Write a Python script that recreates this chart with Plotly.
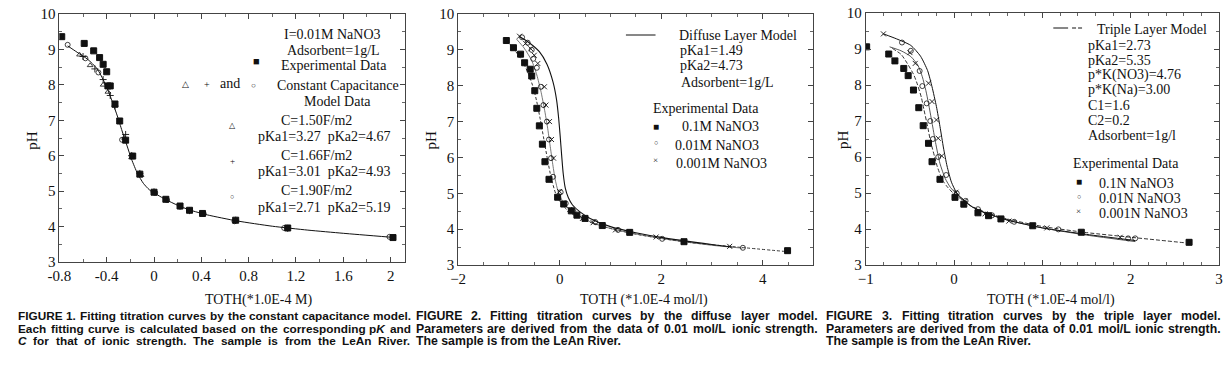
import plotly.graph_objects as go

W, H = 1232, 374
MT, MB = 13, 109
PH = H - MT - MB  # plot-area height in px

# ---------------- Panel 1 data (constant capacitance) ----------------
p1_exp_x = [-0.78, -0.59, -0.51, -0.46, -0.43, -0.40, -0.39, -0.37, -0.33, -0.29, -0.24, -0.18, -0.12, 0.0, 0.10, 0.22, 0.30, 0.41, 0.69, 1.13, 2.02]
p1_exp_y = [9.36, 9.17, 8.96, 8.77, 8.58, 8.37, 7.97, 7.97, 7.46, 6.98, 6.44, 5.99, 5.48, 4.97, 4.77, 4.58, 4.46, 4.37, 4.18, 3.96, 3.69]
p1_circ_x = [-0.73, -0.58, -0.47, -0.27, -0.18, -0.12, 0.01, 0.11, 0.22, 0.42, 0.68, 1.10, 1.99]
p1_circ_y = [9.13, 8.75, 8.35, 6.45, 6.00, 5.48, 4.95, 4.75, 4.56, 4.36, 4.15, 3.96, 3.71]
p1_plus_x = [-0.60, -0.50, -0.43, -0.37, -0.33, -0.24, -0.19, -0.12, 0.0, 0.30, 0.69, 1.13]
p1_plus_y = [8.80, 8.45, 8.15, 7.70, 7.40, 6.60, 6.00, 5.50, 4.98, 4.45, 4.18, 3.95]
p1_tri_x = [-0.63, -0.54, -0.43, -0.39, -0.33, -0.25, -0.19, -0.11]
p1_tri_y = [8.85, 8.55, 8.00, 7.80, 7.40, 6.50, 5.95, 5.45]
p1_fit_x = [-0.73, -0.65, -0.56, -0.48, -0.43, -0.39, -0.35, -0.31, -0.27, -0.23, -0.19, -0.14, -0.09, -0.04, 0.0, 0.1, 0.2, 0.3, 0.45, 0.7, 1.0, 1.3, 1.6, 2.0]
p1_fit_y = [9.10, 8.92, 8.72, 8.45, 8.15, 7.85, 7.50, 7.12, 6.70, 6.30, 5.90, 5.50, 5.22, 5.04, 4.95, 4.76, 4.60, 4.47, 4.33, 4.16, 4.01, 3.90, 3.81, 3.70]

# ---------------- Panel 2 data (diffuse layer) ----------------
p2_sq_x = [-1.05, -0.91, -0.77, -0.69, -0.58, -0.55, -0.49, -0.45, -0.40, -0.34, -0.29, -0.21, -0.04, 0.08, 0.23, 0.34, 0.50, 0.84, 1.38, 2.45, 4.49]
p2_sq_y = [9.26, 9.06, 8.88, 8.64, 8.46, 8.27, 7.86, 7.37, 6.88, 6.37, 5.88, 5.39, 4.89, 4.70, 4.51, 4.39, 4.30, 4.10, 3.91, 3.65, 3.40]
p2_ci_x = [-0.74, -0.63, -0.55, -0.52, -0.45, -0.37, -0.32, -0.25, -0.21, -0.17, -0.13, 0.02, 0.12, 0.27, 0.70, 1.15, 2.02, 3.61]
p2_ci_y = [9.35, 9.20, 9.00, 8.75, 8.50, 7.97, 7.46, 7.00, 6.50, 5.98, 5.46, 5.03, 4.72, 4.50, 4.20, 3.98, 3.73, 3.48]
p2_x_x = [-0.79, -0.67, -0.57, -0.50, -0.43, -0.30, -0.27, -0.20, -0.16, -0.12, 0.0, 0.20, 0.45, 0.66, 1.10, 1.90, 3.35]
p2_x_y = [9.38, 9.18, 9.03, 8.85, 8.62, 7.97, 7.46, 7.00, 6.50, 5.98, 5.05, 4.55, 4.30, 4.18, 3.98, 3.78, 3.52]
p2_fitA_x = [-1.05, -0.90, -0.75, -0.62, -0.52, -0.45, -0.38, -0.31, -0.24, -0.17, -0.08, 0.0, 0.1, 0.25, 0.5, 1.0, 1.5, 2.0, 2.6, 3.5, 4.5]
p2_fitA_y = [9.28, 9.02, 8.72, 8.35, 7.95, 7.55, 7.05, 6.50, 5.95, 5.45, 5.00, 4.78, 4.60, 4.42, 4.24, 4.02, 3.86, 3.74, 3.62, 3.50, 3.37]
p2_fitB_x = [-0.85, -0.70, -0.55, -0.45, -0.37, -0.30, -0.24, -0.19, -0.14, -0.09, -0.03, 0.05, 0.15, 0.3, 0.5, 0.8, 1.2, 2.0, 3.0, 3.6]
p2_fitB_y = [9.30, 9.05, 8.70, 8.30, 7.85, 7.35, 6.85, 6.35, 5.85, 5.40, 5.05, 4.80, 4.60, 4.43, 4.27, 4.10, 3.95, 3.74, 3.55, 3.47]
p2_fitC_x = [-0.80, -0.60, -0.40, -0.25, -0.13, -0.06, -0.02, 0.01, 0.04, 0.07, 0.11, 0.17, 0.25, 0.4, 0.6, 1.0, 1.5, 2.0, 3.0, 3.4]
p2_fitC_y = [9.38, 9.20, 8.95, 8.60, 8.10, 7.60, 7.10, 6.60, 6.05, 5.55, 5.15, 4.88, 4.68, 4.48, 4.30, 4.07, 3.90, 3.77, 3.57, 3.50]

# ---------------- Panel 3 data (triple layer) ----------------
p3_sq_x = [-0.99, -0.74, -0.67, -0.57, -0.52, -0.46, -0.40, -0.35, -0.29, -0.25, -0.16, 0.01, 0.11, 0.27, 0.39, 0.53, 0.89, 1.44, 2.66]
p3_sq_y = [9.06, 8.86, 8.67, 8.46, 8.26, 7.86, 7.37, 6.87, 6.38, 5.87, 5.38, 4.88, 4.69, 4.45, 4.37, 4.28, 4.09, 3.91, 3.63]
p3_ci_x = [-0.59, -0.49, -0.39, -0.36, -0.31, -0.27, -0.24, -0.18, -0.09, 0.03, 0.13, 0.27, 0.43, 0.68, 1.18, 1.97, 2.05]
p3_ci_y = [9.18, 8.95, 8.39, 7.97, 7.49, 7.00, 6.50, 6.00, 5.50, 4.99, 4.78, 4.55, 4.38, 4.20, 3.99, 3.74, 3.74]
p3_x_x = [-0.80, -0.50, -0.44, -0.29, -0.25, -0.20, -0.18, -0.14, 0.02, 0.12, 0.35, 0.62, 1.05, 1.88]
p3_x_y = [9.42, 8.90, 8.60, 8.05, 7.54, 7.03, 6.52, 6.03, 5.02, 4.78, 4.42, 4.22, 4.03, 3.77]
p3_fitA_x = [-0.70, -0.60, -0.53, -0.46, -0.42, -0.37, -0.34, -0.30, -0.27, -0.22, -0.19, -0.13, -0.08, 0.0, 0.1, 0.2, 0.35, 0.6, 1.0, 1.5, 2.0, 2.6]
p3_fitA_y = [9.02, 8.85, 8.60, 8.30, 8.05, 7.65, 7.30, 6.85, 6.47, 6.00, 5.73, 5.35, 5.18, 4.97, 4.80, 4.63, 4.47, 4.28, 4.07, 3.90, 3.77, 3.62]
p3_fitB_x = [-0.73, -0.60, -0.49, -0.41, -0.36, -0.32, -0.29, -0.25, -0.21, -0.16, -0.10, -0.04, 0.03, 0.1, 0.2, 0.35, 0.6, 1.0, 1.5, 2.05]
p3_fitB_y = [9.06, 8.95, 8.79, 8.55, 8.23, 7.85, 7.49, 6.95, 6.40, 5.82, 5.40, 5.15, 4.97, 4.82, 4.62, 4.45, 4.25, 4.03, 3.83, 3.65]
p3_fitC_x = [-0.80, -0.65, -0.49, -0.38, -0.30, -0.25, -0.20, -0.16, -0.12, -0.08, -0.03, 0.03, 0.1, 0.2, 0.35, 0.6, 1.0, 1.5, 2.05]
p3_fitC_y = [9.42, 9.28, 9.10, 8.80, 8.40, 7.95, 7.40, 6.85, 6.25, 5.75, 5.30, 5.00, 4.82, 4.62, 4.45, 4.25, 4.03, 3.85, 3.68]

# axis settings
x1_range, x1_ticks = [-0.8, 2.12], [-0.8, -0.4, 0, 0.4, 0.8, 1.2, 1.6, 2]
x1_labels = ["-0.8", "-0.4", "0", "0.4", "0.8", "1.2", "1.6", "2"]
x2_range, x2_ticks = [-2, 5], [-2, 0, 2, 4]
x3_range, x3_ticks = [-1, 3], [-1, 0, 1, 2, 3]
y_range, y_ticks = [3, 10], [3, 4, 5, 6, 7, 8, 9, 10]

# captions
cap1 = ["FIGURE 1.  Fitting titration curves by the constant capacitance model.",
        "Each fitting curve is calculated based on the corresponding p<i>K</i> and",
        "<i>C</i> for that of ionic strength. The sample is from the LeAn River."]
cap2 = ["FIGURE 2.  Fitting titration curves by the diffuse layer model.",
        "Parameters are derived from the data of 0.01 mol/L ionic strength.",
        "The sample is from the LeAn River."]
cap3 = ["FIGURE 3.  Fitting titration curves by the triple layer model.",
        "Parameters are derived from the data of 0.01 mol/L ionic strength.",
        "The sample is from the LeAn River."]

INK = "#111111"
SERIF = "Liberation Serif, Times New Roman, serif"
SANS = "Liberation Sans, Arial, sans-serif"

fig = go.Figure()

def line(x, y, ax, dash="solid", color=INK, width=1):
    fig.add_trace(go.Scatter(x=x, y=y, mode="lines", xaxis=ax[0], yaxis=ax[1],
                             line=dict(color=color, width=width, dash=dash, shape="spline", smoothing=0.6),
                             showlegend=False, hoverinfo="skip"))

def pts(x, y, ax, symbol, size, color=INK, lw=1):
    fig.add_trace(go.Scatter(x=x, y=y, mode="markers", xaxis=ax[0], yaxis=ax[1],
                             marker=dict(symbol=symbol, size=size, color=color,
                                         line=dict(color=color, width=lw)),
                             showlegend=False))

A1, A2, A3 = ("x", "y"), ("x2", "y2"), ("x3", "y3")

line(p1_fit_x, p1_fit_y, A1)
pts(p1_tri_x, p1_tri_y, A1, "triangle-up-open", 5, lw=0.8)
pts(p1_plus_x, p1_plus_y, A1, "cross-thin", 5, lw=0.9)
pts(p1_circ_x, p1_circ_y, A1, "circle-open", 5, lw=0.8)
pts(p1_exp_x, p1_exp_y, A1, "square", 6)

line(p2_fitA_x, p2_fitA_y, A2, dash="3px,2px", color="#333")
line(p2_fitB_x, p2_fitB_y, A2, color="#555", width=0.8)
line(p2_fitC_x, p2_fitC_y, A2, width=1.1)
pts(p2_ci_x, p2_ci_y, A2, "circle-open", 5, lw=0.8)
pts(p2_x_x, p2_x_y, A2, "x-thin", 5, lw=0.9)
pts(p2_sq_x, p2_sq_y, A2, "square", 6)

line(p3_fitA_x, p3_fitA_y, A3, dash="4px,2px", color="#333")
line(p3_fitB_x, p3_fitB_y, A3, color="#444", width=0.9)
line(p3_fitC_x, p3_fitC_y, A3, width=1)
pts(p3_ci_x, p3_ci_y, A3, "circle-open", 5, lw=0.8)
pts(p3_x_x, p3_x_y, A3, "x-thin", 5, lw=0.9)
pts(p3_sq_x, p3_sq_y, A3, "square", 6)

def px2paper(px, py):
    return px / W, (H - MB - py) / PH

axis_common = dict(showline=True, linecolor="#444", linewidth=1, mirror="ticks",
                   ticks="inside", ticklen=5, tickcolor="#444", showgrid=False, zeroline=False,
                   tickfont=dict(family=SERIF, size=15, color=INK),
                   minor=dict(ticks="inside", ticklen=3, tickcolor="#666"))

def xdom(l, r):
    return [l / W, r / W]

fig.update_layout(
    width=W, height=H, margin=dict(l=0, r=0, t=MT, b=MB),
    paper_bgcolor="white", plot_bgcolor="white",
    xaxis=dict(domain=xdom(48, 398), range=x1_range, tickvals=x1_ticks, ticktext=x1_labels,
               anchor="y", **axis_common),
    yaxis=dict(domain=[(265 - 262) / PH, (265 - 14) / PH], range=y_range, tickvals=y_ticks,
               anchor="x", **axis_common),
    xaxis2=dict(domain=xdom(452, 812), range=x2_range, tickvals=x2_ticks, anchor="y2", **axis_common),
    yaxis2=dict(domain=[0, (265 - 14) / PH], range=y_range, tickvals=y_ticks, anchor="x2", **axis_common),
    xaxis3=dict(domain=xdom(865, 1223), range=x3_range, tickvals=x3_ticks, anchor="y3", **axis_common),
    yaxis3=dict(domain=[0, (265 - 13) / PH], range=y_range, tickvals=y_ticks, anchor="x3", **axis_common),
)

anns = []
def ann(text, px, py, size=14, xanchor="left", family=SERIF, angle=0, yanchor="middle", pad=1):
    x, y = px2paper(px, py)
    anns.append(dict(text=text, x=x, y=y, xref="paper", yref="paper", showarrow=False,
                     xanchor=xanchor, yanchor=yanchor, textangle=angle,
                     borderpad=pad, borderwidth=0,
                     font=dict(family=family, size=size, color=INK)))

# ----- panel 1 key -----
ann("I=0.01M NaNO3", 325, 34, xanchor="center")
ann("Adsorbent=1g/L", 326, 50, xanchor="center")
ann("■", 248, 61, size=11, xanchor="center")
ann("Experimental Data", 326, 65, xanchor="center")
ann("△", 176, 84, size=9, xanchor="center")
ann("+", 198, 84, size=10, xanchor="center")
ann("and", 221, 83, xanchor="center")
ann("○", 245, 86, size=8, xanchor="center")
ann("Constant Capacitance", 330, 86, xanchor="center")
ann("Model Data", 330, 101, xanchor="center")
ann("△", 223, 126, size=8, xanchor="center")
ann("C=1.50F/m2", 308, 120, xanchor="center")
ann("pKa1=3.27  pKa2=4.67", 316, 136, xanchor="center")
ann("+", 223, 161, size=9, xanchor="center")
ann("C=1.66F/m2", 308, 155, xanchor="center")
ann("pKa1=3.01  pKa2=4.93", 316, 171, xanchor="center")
ann("○", 223, 197, size=7, xanchor="center")
ann("C=1.90F/m2", 308, 191, xanchor="center")
ann("pKa1=2.71  pKa2=5.19", 316, 207, xanchor="center")

# ----- panel 2 key -----
ann("Diffuse Layer Model", 675, 35)
ann("pKa1=1.49", 676, 50)
ann("pKa2=4.73", 676, 65)
ann("Adsorbent=1g/L", 677, 82)
ann("Experimental Data", 648, 108)
ann("■", 652, 127, size=10, xanchor="center")
ann("0.1M NaNO3", 678, 127)
ann("○", 652, 143, size=7, xanchor="center")
ann("0.01M NaNO3", 671, 145)
ann("×", 652, 160, size=9, xanchor="center")
ann("0.001M NaNO3", 672, 163)

# ----- panel 3 key -----
ann("Triple Layer Model", 1098, 30)
ann("pKa1=2.73", 1089, 45)
ann("pKa2=5.35", 1089, 60)
ann("p*K(NO3)=4.76", 1089, 75)
ann("p*K(Na)=3.00", 1089, 90)
ann("C1=1.6", 1089, 105)
ann("C2=0.2", 1089, 120)
ann("Adsorbent=1g/l", 1089, 135)
ann("Experimental Data", 1074, 163)
ann("■", 1081, 181, size=10, xanchor="center")
ann("0.1N NaNO3", 1100, 183)
ann("○", 1081, 197, size=7, xanchor="center")
ann("0.01N NaNO3", 1100, 198)
ann("×", 1081, 211, size=9, xanchor="center")
ann("0.001N NaNO3", 1100, 213)

# ----- axis titles -----
ann("pH", 20, 140, size=15, xanchor="center", angle=-90)
ann("pH", 425, 140, size=15, xanchor="center", angle=-90)
ann("pH", 842, 140, size=15, xanchor="center", angle=-90)
ann("TOTH(*1.0E-4 M)", 250, 300, size=14, xanchor="center")
ann("TOTH (*1.0E-4 mol/l)", 640, 300, size=14, xanchor="center")
ann("TOTH (*1.0E-4 mol/l)", 1053, 300, size=14, xanchor="center")

# ----- justified captions (Arial/Liberation Sans Bold advance widths, 1/1000 em) -----
AW = {" ": 278, ".": 278, "/": 278, "-": 333, "(": 333, ")": 333, "*": 389, "=": 584}
for ch in "0123456789":
    AW[ch] = 556
AW.update(dict(A=722, B=722, C=722, D=722, E=667, F=611, G=778, H=722, I=278, J=556, K=722, L=611,
               M=833, N=722, O=778, P=667, Q=778, R=722, S=667, T=611, U=722, V=667, W=944, X=667,
               Y=667, Z=611))
AW.update(dict(a=556, b=611, c=556, d=611, e=556, f=333, g=611, h=611, i=278, j=278, k=556, l=278,
               m=889, n=611, o=611, p=611, q=611, r=389, s=556, t=333, u=611, v=556, w=778, x=556,
               y=556, z=500))

def text_w(s, size):
    plain = s.replace("<i>", "").replace("</i>", "")
    return sum(AW.get(c, 556) for c in plain) * size / 1000.0

def caption_line(s, x0, x1, py, size, justify):
    if not justify:
        ann("<b>" + s + "</b>", x0, py, size=size, family=SANS, pad=0)
        return
    words = s.replace("  ", " ").split(" ")
    total = sum(text_w(w, size) for w in words)
    gap = (x1 - x0 - total) / (len(words) - 1)
    x = x0
    for w in words:
        ann("<b>" + w + "</b>", x, py, size=size, family=SANS, pad=0)
        x += text_w(w, size) + gap

cap_rows = [316, 328.7, 341.4]
for i, t in enumerate(cap1):
    caption_line(t, 6, 404, cap_rows[i], 11.8, True)
for i, t in enumerate(cap2):
    caption_line(t, 409, 816, cap_rows[i], 12.3, i < 2)
for i, t in enumerate(cap3):
    caption_line(t, 825, 1224, cap_rows[i], 12.3, i < 2)

# key line samples
shapes = []
def seg(px0, px1, py, dash="solid"):
    x0, y = px2paper(px0, py)
    x1, _ = px2paper(px1, py)
    shapes.append(dict(type="line", xref="paper", yref="paper", x0=x0, x1=x1, y0=y, y1=y,
                       line=dict(color=INK, width=1, dash=dash)))
seg(622, 652, 35)
seg(1055, 1070, 28)
seg(1074, 1086, 28, dash="4px,2px")

fig.update_layout(annotations=anns, shapes=shapes)
fig.write_html("out.html", config={"displayModeBar": False},
               post_script="document.body.style.margin='0';document.body.style.padding='0';")
